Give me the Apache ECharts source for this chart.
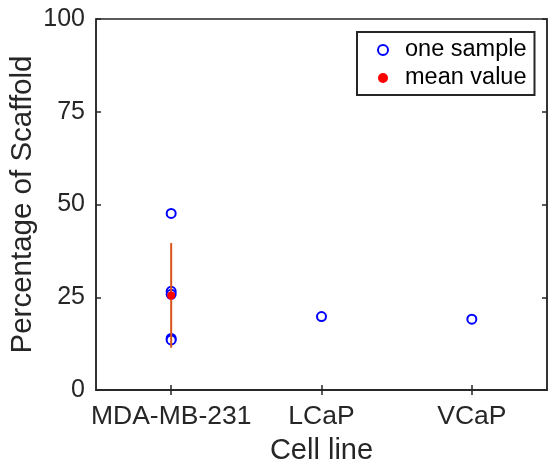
<!DOCTYPE html>
<html>
<head>
<meta charset="utf-8">
<script src="https://cdn.jsdelivr.net/npm/echarts@6/dist/echarts.min.js"></script>
<style>html,body{margin:0;padding:0;background:#fff;}#c{width:548px;height:469px;}</style>
</head>
<body>
<div id="c"></div>
<script>
const categories = ['MDA-MB-231', 'LCaP', 'VCaP'];
const yTicks = [0, 25, 50, 75, 100];
// individual samples: [category index, value]
const sampleCat = [0, 0, 0, 0, 0, 1, 2];
const sampleVal = [47.6, 26.6, 25.8, 13.9, 13.5, 19.8, 19.1];
// mean value and error bar for MDA-MB-231
const meanCat = [0];
const meanVal = [25.5];
const errLow = [11.4];
const errHigh = [39.6];

const FONT = 'Liberation Sans, Arial, Helvetica, sans-serif';
const AX = '#262626';

const chart = echarts.init(document.getElementById('c'), null, {renderer: 'canvas'});
const sampleData = sampleCat.map((c, i) => [c, sampleVal[i]]);
const meanData = meanCat.map((c, i) => [c, meanVal[i]]);
const errData = [];
meanCat.forEach((c, i) => { errData.push([c, errHigh[i]]); errData.push([c, errLow[i]]); });

chart.setOption({
  animation: false,
  backgroundColor: '#fff',
  textStyle: {fontFamily: FONT},
  grid: {left: 96, right: 1, top: 19, bottom: 79, show: true, borderColor: AX, borderWidth: 1.5,
    backgroundColor: 'transparent', containLabel: false, outerBoundsMode: 'none'},
  legend: {
    orient: 'vertical', left: 357, top: 32,
    padding: [6, 8, 5, 20], itemGap: 4,
    itemWidth: 10, itemHeight: 10,
    backgroundColor: '#fff', borderColor: AX, borderWidth: 2,
    textStyle: {fontFamily: FONT, fontSize: 23.5, color: '#000', padding: [0, 0, 0, 12]},
    data: [
      {name: 'one sample'},
      {name: 'mean value', itemStyle: {color: '#ff0000', opacity: 1}}
    ]
  },
  xAxis: [{
    type: 'category', data: categories, boundaryGap: true,
    name: 'Cell line', nameLocation: 'middle', nameGap: 46, nameMoveOverlap: false,
    nameTextStyle: {fontFamily: FONT, fontSize: 29, color: AX},
    axisLine: {show: true, lineStyle: {color: AX, width: 1.5}},
    axisTick: {show: true, inside: true, length: 5, alignWithLabel: true, lineStyle: {color: AX, width: 1.5}},
    axisLabel: {fontFamily: FONT, fontSize: 26.5, color: AX, margin: 13, interval: 0, hideOverlap: false},
    splitLine: {show: false}
  }, {
    type: 'category', data: categories, boundaryGap: true, position: 'top',
    axisLine: {show: true, lineStyle: {color: AX, width: 1.5}},
    axisTick: {show: true, inside: true, length: 5, alignWithLabel: true, lineStyle: {color: AX, width: 1.5}},
    axisLabel: {show: false}, splitLine: {show: false}
  }],
  yAxis: [{
    type: 'value', min: 0, max: 100, interval: 25,
    name: 'Percentage of Scaffold', nameLocation: 'middle', nameGap: 58, nameMoveOverlap: false,
    nameTextStyle: {fontFamily: FONT, fontSize: 29.5, color: AX},
    axisLine: {show: true, lineStyle: {color: AX, width: 1.5}},
    axisTick: {show: true, inside: true, length: 5, lineStyle: {color: AX, width: 1.5}},
    axisLabel: {fontFamily: FONT, fontSize: 25, color: AX, margin: 11,
      formatter: v => yTicks.includes(v) ? String(v) : ''},
    splitLine: {show: false}
  }, {
    type: 'value', min: 0, max: 100, interval: 25, position: 'right',
    axisLine: {show: true, lineStyle: {color: AX, width: 1.5}},
    axisTick: {show: true, inside: true, length: 5, lineStyle: {color: AX, width: 1.5}},
    axisLabel: {show: false}, splitLine: {show: false}
  }],
  series: [{
    name: 'one sample', type: 'scatter', symbol: 'emptyCircle', symbolSize: 9,
    itemStyle: {color: '#0000ff', borderColor: '#0000ff', borderWidth: 2, opacity: 1},
    data: sampleData, z: 2
  }, {
    name: 'error', type: 'line', data: errData, showSymbol: false, symbol: 'none',
    lineStyle: {color: '#D95319', width: 2}, z: 3
  }, {
    name: 'mean value', type: 'scatter', symbol: 'circle', symbolSize: 8,
    itemStyle: {color: '#ff0000', opacity: 1},
    data: meanData, z: 4
  }]
});
</script>
</body>
</html>
